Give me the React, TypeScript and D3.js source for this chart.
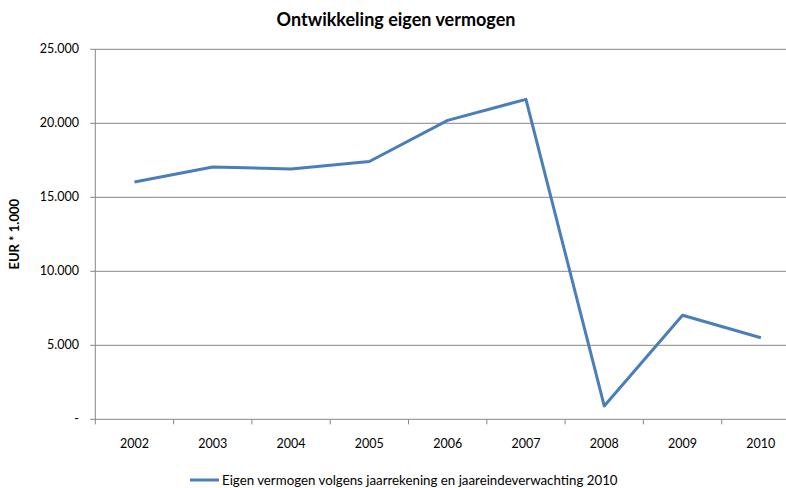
import React from "react";
import * as d3 from "d3";

const years = ["2002", "2003", "2004", "2005", "2006", "2007", "2008", "2009", "2010"];
const equity = [16030, 17050, 16920, 17420, 20200, 21620, 900, 7030, 5510];
const yTicks = [0, 5000, 10000, 15000, 20000, 25000];
const title = "Ontwikkeling eigen vermogen";
const yLabel = "EUR * 1.000";
const seriesName = "Eigen vermogen volgens jaarrekening en jaareindeverwachting 2010";

const W = 786;
const H = 488;
const left = 95.3;
const right = 800;
const top = 49.3;
const bottom = 419.3;
const font = "Lato, 'Open Sans', sans-serif";

export default function App() {
  const x = d3.scaleBand<string>().domain(years).range([left, right]);
  const y = d3.scaleLinear().domain([0, 25000]).range([bottom, top]);
  const fmt = (v: number) => (v === 0 ? "-" : d3.format(",")(v).replace(/,/g, "."));
  const line = d3
    .line<number>()
    .x((_, i) => (x(years[i]) as number) + x.bandwidth() / 2)
    .y((d) => y(d));
  const ticksX = years.map((yr) => x(yr) as number).concat([right]);
  return (
    <svg width={W} height={H} style={{ position: "absolute", left: 0, top: 0, background: "#fff" }}>
      <rect width={W} height={H} fill="#fff" />
      <text x={396} y={26} textAnchor="middle" fontFamily={font} fontWeight="bold" fontSize={18} fill="#000">
        {title}
      </text>
      {yTicks.map((t) => (
        <g key={t}>
          {t > 0 && <line x1={left} x2={W} y1={y(t)} y2={y(t)} stroke="#868686" strokeWidth={1} />}
          <line x1={left - 5} x2={left} y1={y(t)} y2={y(t)} stroke="#868686" strokeWidth={1} />
          <text x={79} y={y(t) + 4} textAnchor="end" fontFamily={font} fontSize={12.5} fill="#000">
            {fmt(t)}
          </text>
        </g>
      ))}
      <line x1={left} x2={left} y1={top} y2={bottom} stroke="#868686" strokeWidth={1} />
      <line x1={left} x2={W} y1={bottom} y2={bottom} stroke="#868686" strokeWidth={1} />
      {ticksX.map((tx, i) => (
        <line key={i} x1={tx} x2={tx} y1={bottom} y2={bottom + 5} stroke="#868686" strokeWidth={1} />
      ))}
      {years.map((yr) => (
        <text
          key={yr}
          x={(x(yr) as number) + x.bandwidth() / 2}
          y={448}
          textAnchor="middle"
          fontFamily={font}
          fontSize={12.5}
          fill="#000"
        >
          {yr}
        </text>
      ))}
      <text
        transform={`translate(19,${(top + bottom) / 2}) rotate(-90)`}
        textAnchor="middle"
        fontFamily={font}
        fontWeight="bold"
        fontSize={13}
        fill="#000"
      >
        {yLabel}
      </text>
      <path d={line(equity) || ""} fill="none" stroke="#4A7EBB" strokeWidth={3} strokeLinejoin="round" />
      <line x1={190} x2={219} y1={480} y2={480} stroke="#4A7EBB" strokeWidth={3} />
      <text x={222} y={484.5} fontFamily={font} fontSize={13.3} fill="#000">
        {seriesName}
      </text>
    </svg>
  );
}
